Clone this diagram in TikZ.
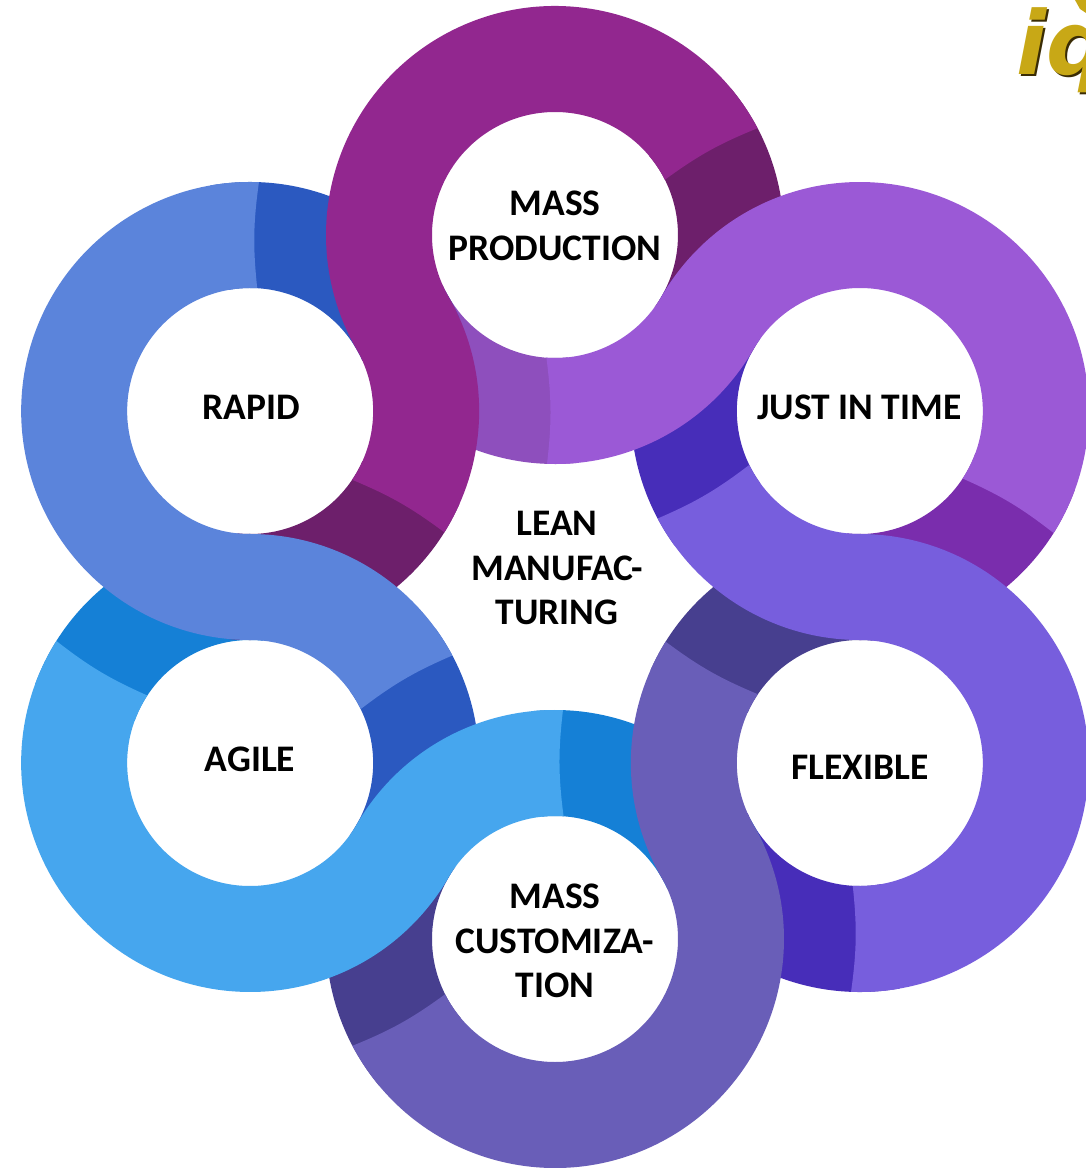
\documentclass[tikz,border=0pt]{standalone}
\usepackage{fontspec}
\setmainfont{Carlito}
\newfontfamily\logofont{DejaVu Sans}
\definecolor{mTop}{HTML}{92278F}\definecolor{dTop}{HTML}{6D1F6B}\definecolor{tTop}{HTML}{8E4FBD}
\definecolor{mJit}{HTML}{9B59D6}\definecolor{dJit}{HTML}{7A2DAD}\definecolor{tJit}{HTML}{472DB9}
\definecolor{mFlex}{HTML}{775EDD}\definecolor{tFlex}{HTML}{473F8F}
\definecolor{mCust}{HTML}{695EB8}\definecolor{tCust}{HTML}{1580D6}
\definecolor{mAgile}{HTML}{46A6EE}\definecolor{tAgile}{HTML}{2B59C0}
\definecolor{mRapid}{HTML}{5B84DB}
\definecolor{logoGold}{HTML}{C8A816}\definecolor{logoShade}{HTML}{3A2C05}
\newcommand{\ringsector}[4]{% rotation, colour, from, to
  \begin{scope}[rotate=#1]
    \fill[#2] ([shift={(0,352)}]#3:229) arc[start angle=#3,end angle=#4,radius=229]
      -- ([shift={(0,352)}]#4:123) arc[start angle=#4,end angle=#3,radius=123] -- cycle;
  \end{scope}}
\newcommand{\undersectors}[3]{% rotation, dark, tail
  \ringsector{#1}{#2}{-36}{40}\ringsector{#1}{#3}{204}{276}}
\newcommand{\mainband}[2]{% rotation, colour
  \begin{scope}[rotate=#1]
    \fill[#2] ([shift={(0,352)}]27.8:229) arc[start angle=27.8,end angle=210,radius=229]
      arc[start angle=30,end angle=-34,radius=123]
      to[bend left=7] ([shift={(150:352)}]-32:229)
      arc[start angle=-32,end angle=30,radius=229]
      arc[start angle=210,end angle=26.7,radius=123]
      to[bend left=7] ([shift={(0,352)}]27.8:229) -- cycle;
  \end{scope}}
\tikzset{
  hole/.style={circle,fill=white,minimum size=243,inner sep=0},
  lbl/.style={font=\fontsize{37.5}{44.5}\selectfont\bfseries,align=center,text=black,inner sep=0},
  logo/.style={font=\logofont\fontsize{88}{88}\selectfont\bfseries\itshape,inner sep=0,anchor=base west}
}
\begin{document}
\begin{tikzpicture}[x=1pt,y=1pt]
\useasboundingbox (-555,587) rectangle (531,-581);
\clip (-555,587) rectangle (531,-581);
\fill[white] (-555,587) rectangle (531,-581);
% logo
\node[logo,text=logoShade] (logoshadow) at (463,510) {iq};
\node[logo,text=logoGold] (logotext) at (461,512) {iq};
\fill[logoGold] (520,587) -- (531,587) -- (531,574) -- (525,578) -- cycle;
% darker lobes
\undersectors{0}{dTop}{tTop}
\undersectors{-60}{dJit}{tJit}
\undersectors{-120}{tJit}{tFlex}
\undersectors{180}{tFlex}{tCust}
\undersectors{120}{tCust}{tAgile}
\undersectors{60}{tAgile}{dTop}
% main bands
\mainband{0}{mTop}
\mainband{-60}{mJit}
\mainband{-120}{mFlex}
\mainband{180}{mCust}
\mainband{120}{mAgile}
\mainband{60}{mRapid}
% holes
\node[hole] (mass) at (90:352) {};
\node[hole] (jit) at (30:352) {};
\node[hole] (flex) at (-30:352) {};
\node[hole] (cust) at (-90:352) {};
\node[hole] (agile) at (210:352) {};
\node[hole] (rapid) at (150:352) {};
% labels
\node[lbl] (massL) at (0,361) {MASS\\PRODUCTION};
\node[lbl] (jitL) at (304.5,180) {JUST IN TIME};
\node[lbl] (flexL) at (305,-180) {FLEXIBLE};
\node[lbl] (custL) at (0,-354) {MASS\\CUSTOMIZA-\\TION};
\node[lbl] (agileL) at (-305,-172) {AGILE};
\node[lbl] (rapidL) at (-304,180) {RAPID};
\node[lbl] (leanL) at (2,19) {LEAN\\MANUFAC-\\TURING};
\end{tikzpicture}
\end{document}
